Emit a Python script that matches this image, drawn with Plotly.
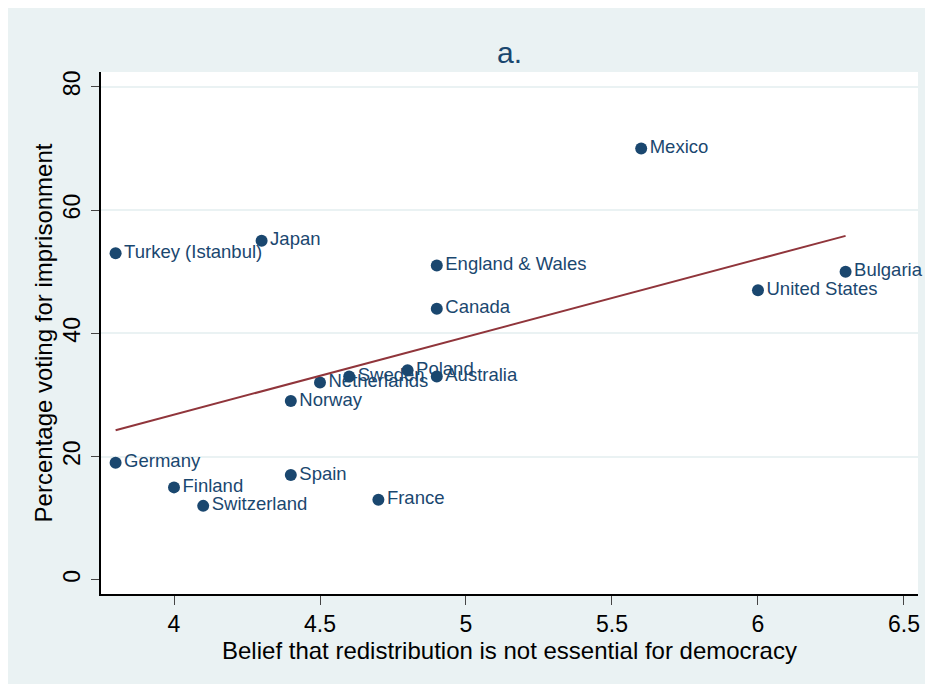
import numpy as np
import plotly.graph_objects as go

countries = ["Turkey (Istanbul)", "Japan", "Mexico", "England & Wales", "Canada",
             "Bulgaria", "United States", "Poland", "Australia", "Sweden",
             "Netherlands", "Norway", "Germany", "Finland", "Switzerland",
             "Spain", "France"]
belief = [3.8, 4.3, 5.6, 4.9, 4.9, 6.3, 6.0, 4.8, 4.9, 4.6, 4.5, 4.4, 3.8, 4.0, 4.1, 4.4, 4.7]
imprison = [53, 55, 70, 51, 44, 50, 47, 34, 33, 33, 32, 29, 19, 15, 12, 17, 13]

x_ticks = [4, 4.5, 5, 5.5, 6, 6.5]
y_ticks = [0, 20, 40, 60, 80]
grid_ticks = [20, 40, 60, 80]

NAVY = "#1A476F"
MAROON = "#90353B"
BG = "#EAF2F3"
FONT = "Liberation Sans, Arial, Helvetica, sans-serif"

slope, intercept = np.polyfit(belief, imprison, 1)
fit_x = [min(belief), max(belief)]
fit_y = [intercept + slope * v for v in fit_x]

fig = go.Figure()
fig.add_trace(go.Scatter(
    x=[belief[0]], y=[imprison[0]], yaxis="y2", mode="markers",
    marker=dict(opacity=0), showlegend=False, hoverinfo="skip"))
fig.add_trace(go.Scatter(
    x=belief, y=imprison, mode="markers+text", text=countries,
    textposition="middle right", cliponaxis=False,
    textfont=dict(family=FONT, size=18.5, color=NAVY),
    marker=dict(size=12, color=NAVY, line=dict(width=0)),
    showlegend=False, hoverinfo="skip"))
fig.add_trace(go.Scatter(
    x=fit_x, y=fit_y, mode="lines", line=dict(color=MAROON, width=2),
    showlegend=False, hoverinfo="skip"))

# page body adds an 8px white margin; figure fills the rest
W, H = 925, 676
L, R, T, B = 93, 15, 64, 90

fig.update_layout(
    width=W, height=H,
    margin=dict(l=L, r=R, t=T, b=B, autoexpand=False),
    paper_bgcolor=BG,
    plot_bgcolor="white",
    font=dict(family=FONT, color="black"),
    title=dict(text="a.", x=0.5, xref="paper", xanchor="center",
               y=1 - 44 / H, yref="container", yanchor="middle",
               font=dict(family=FONT, size=30, color=NAVY)),
    xaxis=dict(
        range=[3.75, 6.548], tickvals=x_ticks, ticktext=[f"{v:g}" for v in x_ticks],
        showgrid=False, zeroline=False,
        showline=True, linecolor="black", linewidth=1.5,
        ticks="outside", ticklen=9, tickwidth=1, tickcolor="#444",
        tickfont=dict(size=23, color="black"),
        title=dict(text="Belief that redistribution is not essential for democracy",
                   font=dict(size=24, color="black"), standoff=0),
        automargin=False),
    yaxis=dict(
        range=[-2.3, 82.4], tickvals=y_ticks, ticktext=[str(v) for v in y_ticks],
        showgrid=False, zeroline=False,
        showline=True, linecolor="black", linewidth=1.5,
        ticks="outside", ticklen=8, tickwidth=1, tickcolor="#444",
        tickangle=-90, ticklabelstandoff=2,
        tickfont=dict(size=23, color="black"),
        title=dict(text="Percentage voting for imprisonment",
                   font=dict(size=24, color="black"), standoff=0),
        automargin=False),
    yaxis2=dict(
        overlaying="y", matches="y", range=[-2.3, 82.4], tickvals=grid_ticks,
        showgrid=True, gridcolor=BG, gridwidth=2,
        showticklabels=False, ticks="", showline=False, zeroline=False),
)

fig.write_html("out.html")
